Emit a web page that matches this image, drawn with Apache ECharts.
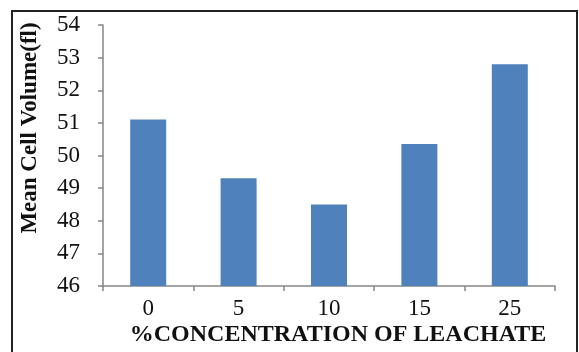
<!DOCTYPE html>
<html>
<head>
<meta charset="utf-8">
<script src="https://cdn.jsdelivr.net/npm/echarts@6/dist/echarts.min.js"></script>
<style>
  html, body { margin: 0; padding: 0; background: #fff; }
  #chart { width: 579px; height: 352px; }
</style>
</head>
<body>
<div id="chart"></div>
<script>
// Leachate concentration (%) and mean cell volume (fl)
const categories = ['0', '5', '10', '15', '25'];
const meanCellVolume = [51.1, 49.3, 48.5, 50.35, 52.8];
const yTicks = { min: 46, max: 54, step: 1 };
const xTitle = '%CONCENTRATION OF LEACHATE';
const yTitle = 'Mean Cell Volume(fl)';

const serif = '"Liberation Serif", "Times New Roman", serif';
const axisGray = '#868686';

const chart = echarts.init(document.getElementById('chart'), null, { renderer: 'canvas' });
chart.setOption({
  animation: false,
  backgroundColor: '#fff',
  grid: { left: 103, top: 25, right: 24, bottom: 66, containLabel: false },
  xAxis: {
    type: 'category',
    data: categories,
    axisLine: { lineStyle: { color: axisGray, width: 1.5 } },
    axisTick: { show: true, length: 5, lineStyle: { color: axisGray, width: 1.5 }, alignWithLabel: false },
    axisLabel: { color: '#111', fontFamily: serif, fontSize: 23, margin: 11 }
  },
  yAxis: {
    type: 'value',
    min: yTicks.min,
    max: yTicks.max,
    interval: yTicks.step,
    splitLine: { show: false },
    axisLine: { show: true, lineStyle: { color: axisGray, width: 1.5 } },
    axisTick: { show: true, length: 5, lineStyle: { color: axisGray, width: 1.5 } },
    axisLabel: { color: '#111', fontFamily: serif, fontSize: 23, margin: 23 }
  },
  series: [{
    type: 'bar',
    data: meanCellVolume,
    barWidth: 36,
    itemStyle: { color: '#4F81BD' }
  }],
  graphic: [
    {
      type: 'rect',
      shape: { x: 12, y: 11, width: 565, height: 360 },
      style: { fill: 'none', stroke: '#222', lineWidth: 2 },
      silent: true
    },
    {
      type: 'text',
      x: 30, y: 128,
      rotation: Math.PI / 2,
      style: {
        text: yTitle,
        font: 'bold 23px ' + serif,
        fill: '#111',
        align: 'center',
        verticalAlign: 'middle'
      }
    },
    {
      type: 'text',
      x: 338, y: 335,
      style: {
        text: xTitle,
        font: 'bold 24px ' + serif,
        fill: '#111',
        align: 'center',
        verticalAlign: 'middle'
      }
    }
  ]
});
</script>
</body>
</html>
